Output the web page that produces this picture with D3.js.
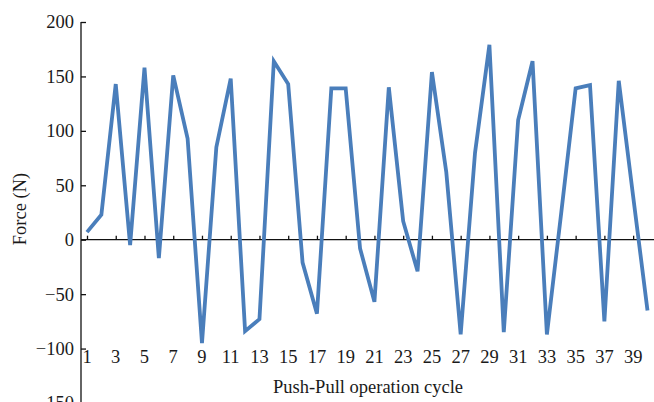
<!DOCTYPE html>
<html>
<head>
<meta charset="utf-8">
<script src="https://cdn.jsdelivr.net/npm/d3@7"></script>
<style>
	body { margin: 0; background: #fff; }
	svg { display: block; font-family: "Liberation Serif", "Times New Roman", serif; }
</style>
</head>
<body>
<div id="chart"></div>
<script>

// push-pull cycles 1..40 and the measured force
let cycles = d3.range(1, 41);
let force = [
	7, 23, 143, -5, 158, -17, 151, 93, -95, 85,
	148, -84, -73, 164, 143, -21, -68, 139, 139, -8,
	-57, 140, 17, -29, 154, 62, -87, 80, 179, -85,
	110, 164, -87, 25, 139, 142, -75, 146, 40, -65
];
let yTicks = [200, 150, 100, 50, 0, -50, -100, -150];
let xTicks = d3.range(1, 40, 2);

let width = 654,
	height = 402,
	fontSize = 18.5;

let svg = d3.select("#chart")
	.append("svg")
		.attr("width", width)
		.attr("height", height);

let x = d3.scaleLinear()
	.domain([1, 40])
	.range([87, 647.5]);

let y = d3.scaleLinear()
	.domain([-150, 200])
	.range([403, 22]);

let axisX = 81;

// y axis, ticks point inward
svg.append("g")
	.attr("transform", "translate(" + axisX + ",0)")
	.call(d3.axisRight(y).tickValues(yTicks).tickSize(5).tickFormat(""))
	.call(g => g.select(".domain").attr("d", "M0,22V" + height))
	.call(g => g.selectAll("line, path").attr("stroke", "#111").attr("stroke-width", 1.3));

svg.append("g")
	.selectAll("text")
	.data(yTicks)
	.enter()
	.append("text")
		.attr("x", axisX - 7)
		.attr("y", d => y(d))
		.attr("dy", "0.35em")
		.attr("text-anchor", "end")
		.attr("font-size", fontSize)
		.attr("fill", "#1a1a1a")
		.text(d => d < 0 ? "\u2212" + Math.abs(d) : d);

// x axis drawn along zero, ticks point up
svg.append("g")
	.attr("transform", "translate(0," + y(0) + ")")
	.call(d3.axisTop(x).tickValues(xTicks).tickSize(4).tickFormat(""))
	.call(g => g.select(".domain").attr("d", "M" + axisX + ",0H" + width))
	.call(g => g.selectAll("line, path").attr("stroke", "#111").attr("stroke-width", 1.3));

svg.append("g")
	.selectAll("text")
	.data(xTicks)
	.enter()
	.append("text")
		.attr("x", d => x(d))
		.attr("y", 357)
		.attr("dy", "0.35em")
		.attr("text-anchor", "middle")
		.attr("font-size", fontSize)
		.attr("fill", "#1a1a1a")
		.text(d => d);

let line = d3.line()
	.x((d, i) => x(cycles[i]))
	.y(d => y(d));

svg.append("path")
	.datum(force)
	.attr("d", line)
	.attr("fill", "none")
	.attr("stroke", "#4a7ebb")
	.attr("stroke-width", 3.8)
	.attr("stroke-linejoin", "miter");

svg.append("text")
	.attr("x", 368)
	.attr("y", 387)
	.attr("dy", "0.35em")
	.attr("text-anchor", "middle")
	.attr("font-size", fontSize)
	.attr("fill", "#1a1a1a")
	.text("Push-Pull operation cycle");

svg.append("text")
	.attr("transform", "translate(20,209) rotate(-90)")
	.attr("dy", "0.35em")
	.attr("text-anchor", "middle")
	.attr("font-size", fontSize)
	.attr("fill", "#1a1a1a")
	.text("Force (N)");

</script>
</body>
</html>
